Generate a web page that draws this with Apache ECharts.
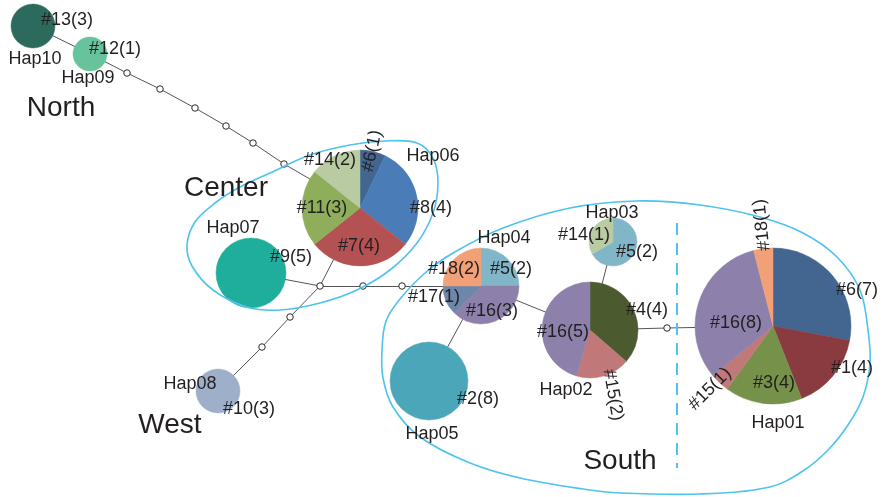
<!DOCTYPE html>
<html>
<head>
<meta charset="utf-8">
<script src="https://cdn.jsdelivr.net/npm/echarts@6/dist/echarts.min.js"></script>
<style>
  html, body { margin: 0; padding: 0; background: #fff; }
  #chart { width: 882px; height: 497px; }
</style>
</head>
<body>
<div id="chart"></div>
<script>
// ---- Data: haplotypes, the sites (#) they occur in and the sample counts ----
const haplotypes = ['Hap01', 'Hap02', 'Hap03', 'Hap04', 'Hap05', 'Hap06', 'Hap07', 'Hap08', 'Hap09', 'Hap10'];
const haplotypeSites = [
  ['#6', '#1', '#3', '#15', '#16', '#18'],
  ['#4', '#15', '#16'],
  ['#5', '#14'],
  ['#5', '#16', '#17', '#18'],
  ['#2'],
  ['#6', '#8', '#7', '#11', '#14'],
  ['#9'],
  ['#10'],
  ['#12'],
  ['#13']
];
const haplotypeCounts = [
  [7, 4, 4, 1, 8, 1],
  [4, 2, 5],
  [2, 1],
  [2, 3, 1, 2],
  [8],
  [1, 4, 4, 3, 2],
  [5],
  [3],
  [1],
  [3]
];
// Unsampled (median) vertices and the mutational steps joining everything
const medianVectors = ['mv1', 'mv2', 'mv3', 'mv4', 'mv5', 'mv6', 'mv7', 'mv8', 'mv9', 'mv10', 'mv11', 'mv12'];
const networkLinks = [
  ['Hap10', 'Hap09'], ['Hap09', 'mv1'], ['mv1', 'mv2'], ['mv2', 'mv3'], ['mv3', 'mv4'],
  ['mv4', 'mv5'], ['mv5', 'mv6'], ['mv6', 'Hap06'],
  ['Hap06', 'mv7'], ['mv7', 'Hap07'],
  ['mv7', 'mv10'], ['mv10', 'mv11'], ['mv11', 'Hap08'],
  ['mv7', 'mv8'], ['mv8', 'mv9'], ['mv9', 'Hap04'],
  ['Hap04', 'Hap05'], ['Hap04', 'Hap02'], ['Hap03', 'Hap02'],
  ['Hap02', 'mv12'], ['mv12', 'Hap01']
];
const regionNames = ['North', 'Center', 'West', 'South'];

// ---- Layout: where each vertex sits (x, y, radius) in the drawing plane ----
const nodeLayout = {
  Hap01: [773, 326, 78], Hap02: [590, 330, 48], Hap03: [613, 242, 24], Hap04: [481, 286, 38],
  Hap05: [429, 381, 39], Hap06: [360, 208, 58], Hap07: [251, 273, 35], Hap08: [218, 391, 22],
  Hap09: [90, 54, 17], Hap10: [33, 26, 22],
  mv1: [127, 73], mv2: [160, 89], mv3: [195, 108], mv4: [226, 126], mv5: [253, 143], mv6: [284, 164],
  mv7: [320, 286], mv8: [363, 286], mv9: [402, 286], mv10: [290, 317], mv11: [262, 347], mv12: [667, 328]
};
// slice label anchors: x, y, rotation (degrees, counter-clockwise)
const sliceLabelLayout = {
  'Hap10|#13': [67, 20, 0], 'Hap09|#12': [115, 49, 0],
  'Hap06|#6': [372, 151, 78], 'Hap06|#8': [431, 208, 0], 'Hap06|#7': [359, 246, 0],
  'Hap06|#11': [322, 208, 0], 'Hap06|#14': [330, 160, 0],
  'Hap07|#9': [291, 257, 0], 'Hap08|#10': [249, 409, 0],
  'Hap04|#5': [511, 269, 0], 'Hap04|#16': [492, 311, 0], 'Hap04|#17': [434, 297, 0], 'Hap04|#18': [454, 269, 0],
  'Hap03|#5': [637, 252, 0], 'Hap03|#14': [584, 235, 0],
  'Hap05|#2': [478, 399, 0],
  'Hap02|#4': [647, 310, 0], 'Hap02|#15': [613, 395, -80], 'Hap02|#16': [563, 332, 0],
  'Hap01|#6': [857, 290, 0], 'Hap01|#1': [852, 368, 0], 'Hap01|#3': [774, 383, 0],
  'Hap01|#15': [710, 389, 45], 'Hap01|#16': [736, 323, 0], 'Hap01|#18': [762, 225, 96]
};
const nameLabelLayout = {
  Hap01: [778, 423], Hap02: [566, 390], Hap03: [612, 213], Hap04: [504, 238], Hap05: [432, 434],
  Hap06: [433, 156], Hap07: [233, 228], Hap08: [190, 384], Hap09: [88, 78], Hap10: [35, 59]
};
const regionLabelLayout = { North: [61, 108], Center: [226, 188], West: [170, 425], South: [620, 461] };

// group outlines (closed smooth curves) and the divider inside South
const centerOutline = [[187, 245], [195, 222], [215, 203], [240, 187], [270, 173], [310, 155], [350, 145],
  [385, 141], [417, 143], [433, 158], [438, 183], [433, 213], [417, 243], [390, 270], [357, 290],
  [320, 303], [280, 310], [247, 307], [213, 290], [192, 266]];
const southOutline = [[382, 350], [386, 321], [400, 299], [425, 273], [453, 253], [503, 228], [570, 208],
  [637, 201], [700, 205], [760, 217], [803, 233], [837, 257], [860, 290], [868, 330], [870, 363],
  [863, 397], [848, 425], [828, 450], [803, 471], [770, 487], [700, 494], [620, 493], [583, 489],
  [520, 478], [470, 463], [420, 437], [393, 407], [383, 378]];
const dividerLine = [[677, 223], [677, 468]];

// ---- Styles ----
const siteColors = {
  '#1': '#8a3b3f', '#2': '#4ba6b9', '#3': '#76914a', '#4': '#4b5a2f', '#5': '#81b6c9',
  '#6': '#42668f', '#7': '#b45253', '#8': '#4a7cb8', '#9': '#1fae9b', '#10': '#9eafca',
  '#11': '#8fae5b', '#12': '#67c39b', '#13': '#2b6a5d', '#14': '#b9cba3', '#15': '#c07878',
  '#16': '#8d80ab', '#17': '#6d86a9', '#18': '#f2a078'
};
const outlineColor = '#4dc3ee';
const textColor = '#231f20';
const fontFamily = '"Liberation Sans", Arial, Helvetica, sans-serif';

// ---- Build series data ----
const sliceData = [], sliceColors = [];
const sliceLabelData = [], sliceLabelText = [];
haplotypes.forEach((hap, h) => {
  const [x, y, r] = nodeLayout[hap];
  const counts = haplotypeCounts[h];
  const total = counts.reduce((a, b) => a + b, 0);
  let acc = 0;
  counts.forEach((c, i) => {
    const site = haplotypeSites[h][i];
    sliceData.push([x, y, r, acc / total, (acc + c) / total]);
    sliceColors.push(siteColors[site]);
    acc += c;
    const lab = sliceLabelLayout[hap + '|' + site];
    sliceLabelData.push([lab[0], lab[1], lab[2]]);
    sliceLabelText.push(site + '(' + c + ')');
  });
});
const nameLabelData = haplotypes.map(h => [nameLabelLayout[h][0], nameLabelLayout[h][1], 0]);
const regionLabelData = regionNames.map(n => [regionLabelLayout[n][0], regionLabelLayout[n][1], 0]);

const graphNodes = haplotypes.map(h => ({
  name: h, value: [nodeLayout[h][0], nodeLayout[h][1]], symbolSize: 0
})).concat(medianVectors.map(m => ({
  name: m, value: [nodeLayout[m][0], nodeLayout[m][1]], symbolSize: 6.5
})));
const graphLinks = networkLinks.map(([s, t]) => ({ source: s, target: t }));

function textSeries(data, texts, size, z) {
  return {
    type: 'custom', coordinateSystem: 'cartesian2d', z: z, silent: true,
    data: data,
    renderItem: (params, api) => {
      const p = api.coord([api.value(0), api.value(1)]);
      return {
        type: 'text', x: p[0], y: p[1], rotation: api.value(2) * Math.PI / 180,
        style: {
          text: texts[params.dataIndex], fill: textColor,
          font: size + 'px ' + fontFamily, align: 'center', verticalAlign: 'middle'
        }
      };
    }
  };
}

const chart = echarts.init(document.getElementById('chart'), null, { renderer: 'canvas' });
chart.setOption({
  animation: false,
  backgroundColor: '#ffffff',
  grid: { left: 0, right: 0, top: 0, bottom: 0 },
  xAxis: { type: 'value', min: 0, max: 882, show: false },
  yAxis: { type: 'value', min: 0, max: 497, inverse: true, show: false },
  series: [
    {
      // mutational steps and median vectors
      type: 'graph', coordinateSystem: 'cartesian2d', z: 1, silent: true,
      symbol: 'circle',
      data: graphNodes, links: graphLinks,
      itemStyle: { color: '#ffffff', borderColor: '#2a2a2a', borderWidth: 1 },
      lineStyle: { color: '#555555', width: 1, opacity: 1, curveness: 0 },
      label: { show: false },
      emphasis: { disabled: true }
    },
    {
      // haplotype pies, one sector per site
      type: 'custom', coordinateSystem: 'cartesian2d', z: 2, silent: true,
      data: sliceData,
      renderItem: (params, api) => {
        const c = api.coord([api.value(0), api.value(1)]);
        const r = api.size([api.value(2), 0])[0];
        const a0 = -Math.PI / 2 + 2 * Math.PI * api.value(3);
        const a1 = -Math.PI / 2 + 2 * Math.PI * api.value(4);
        return {
          type: 'sector',
          shape: { cx: c[0], cy: c[1], r0: 0, r: r, startAngle: a0, endAngle: a1, clockwise: true },
          style: { fill: sliceColors[params.dataIndex], stroke: sliceColors[params.dataIndex], lineWidth: 0.5 }
        };
      }
    },
    {
      // group outlines and the divider in South
      type: 'custom', coordinateSystem: 'cartesian2d', z: 3, silent: true,
      data: [[0, 0]],
      renderItem: (params, api) => {
        const toPx = pts => pts.map(p => api.coord(p));
        const d = toPx(dividerLine);
        return {
          type: 'group',
          children: [
            { type: 'polygon', shape: { points: toPx(centerOutline), smooth: 0.35 },
              style: { fill: 'none', stroke: outlineColor, lineWidth: 1.6 } },
            { type: 'polygon', shape: { points: toPx(southOutline), smooth: 0.35 },
              style: { fill: 'none', stroke: outlineColor, lineWidth: 1.6 } },
            { type: 'line', shape: { x1: d[0][0], y1: d[0][1], x2: d[1][0], y2: d[1][1] },
              style: { stroke: outlineColor, lineWidth: 2, lineDash: [12, 8] } }
          ]
        };
      }
    },
    textSeries(sliceLabelData, sliceLabelText, 18, 4),
    textSeries(nameLabelData, haplotypes, 18, 4),
    textSeries(regionLabelData, regionNames, 28, 4)
  ]
});
</script>
</body>
</html>
